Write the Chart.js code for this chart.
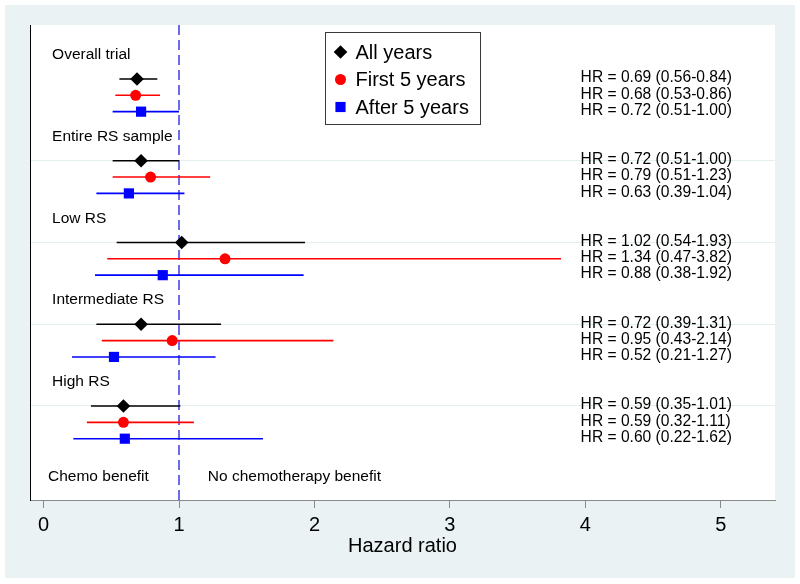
<!DOCTYPE html>
<html><head><meta charset="utf-8">
<script src="https://cdn.jsdelivr.net/npm/chart.js@4"></script>
<style>html,body{margin:0;padding:0;background:#fff;}#wrap{width:800px;height:584px;}</style>
</head><body><div id="wrap"><canvas id="c" width="800" height="584"></canvas></div>
<script>
// ---- data ----
const groups = ['Overall trial', 'Entire RS sample', 'Low RS', 'Intermediate RS', 'High RS'];
const seriesNames = ['All years', 'First 5 years', 'After 5 years'];
const allHR   = [0.69, 0.72, 1.02, 0.72, 0.59];
const allLo   = [0.56, 0.51, 0.54, 0.39, 0.35];
const allHi   = [0.84, 1.00, 1.93, 1.31, 1.01];
const firstHR = [0.68, 0.79, 1.34, 0.95, 0.59];
const firstLo = [0.53, 0.51, 0.47, 0.43, 0.32];
const firstHi = [0.86, 1.23, 3.82, 2.14, 1.11];
const afterHR = [0.72, 0.63, 0.88, 0.52, 0.60];
const afterLo = [0.51, 0.39, 0.38, 0.21, 0.22];
const afterHi = [1.00, 1.04, 1.92, 1.27, 1.62];
const xTicks = [0, 1, 2, 3, 4, 5];
const refValue = 1;
const xTitle = 'Hazard ratio';
const benefitLabels = ['Chemo benefit', 'No chemotherapy benefit'];

// ---- styling ----
const FONT = '"Liberation Sans", Arial, sans-serif';
const series = [
  {name: seriesNames[0], hr: allHR,   lo: allLo,   hi: allHi,   color: '#000000', style: 'rectRot', radius: 6.8},
  {name: seriesNames[1], hr: firstHR, lo: firstLo, hi: firstHi, color: '#ff0000', style: 'circle',  radius: 5.5},
  {name: seriesNames[2], hr: afterHR, lo: afterLo, hi: afterHi, color: '#0000ff', style: 'rect',    radius: 7.2}
];
const GROUP_STEP = 5;
function rowOf(g, s) { return g * GROUP_STEP + 1 + s; }

const datasets = series.map((s, si) => ({
  label: s.name,
  data: s.hr.map((v, g) => ({x: v, y: rowOf(g, si)})),
  pointStyle: s.style,
  pointRadius: s.radius,
  pointHoverRadius: s.radius,
  pointBackgroundColor: s.color,
  pointBorderColor: s.color,
  pointBorderWidth: 0,
  showLine: false
}));

const forestPlugin = {
  id: 'forest',
  beforeDraw(chart) {
    const ctx = chart.ctx, a = chart.chartArea;
    ctx.save();
    ctx.fillStyle = '#ffffff';
    ctx.fillRect(0, 0, chart.width, chart.height);
    ctx.fillStyle = '#eaf2f3';
    ctx.fillRect(5, 5, chart.width - 10, chart.height - 11);
    ctx.fillStyle = '#ffffff';
    ctx.fillRect(a.left, a.top, a.right - a.left, a.bottom - a.top);
    ctx.restore();
  },
  beforeDatasetsDraw(chart) {
    const ctx = chart.ctx, xs = chart.scales.x, ys = chart.scales.y, a = chart.chartArea;
    ctx.save();
    // reference line
    const xr = xs.getPixelForValue(refValue);
    ctx.strokeStyle = '#6b6bec';
    ctx.lineWidth = 2;
    ctx.setLineDash([10, 5]);
    ctx.beginPath();
    ctx.moveTo(xr, a.top);
    ctx.lineTo(xr, a.bottom);
    ctx.stroke();
    ctx.setLineDash([]);
    // confidence intervals
    ctx.lineWidth = 1.6;
    series.forEach((s, si) => {
      ctx.strokeStyle = s.color;
      s.lo.forEach((lo, g) => {
        const y = ys.getPixelForValue(rowOf(g, si));
        ctx.beginPath();
        ctx.moveTo(xs.getPixelForValue(lo), y);
        ctx.lineTo(xs.getPixelForValue(s.hi[g]), y);
        ctx.stroke();
      });
    });
    ctx.restore();
  },
  afterDatasetsDraw(chart) {
    const ctx = chart.ctx, xs = chart.scales.x, ys = chart.scales.y;
    ctx.save();
    ctx.fillStyle = '#000';
    ctx.textBaseline = 'middle';
    ctx.textAlign = 'left';
    ctx.font = '15.5px ' + FONT;
    groups.forEach((name, g) => {
      ctx.fillText(name, xs.getPixelForValue(0.063), ys.getPixelForValue(rowOf(g, 0) - 1.47));
    });
    ctx.font = '15.6px ' + FONT;
    series.forEach((s, si) => {
      s.hr.forEach((v, g) => {
        const t = 'HR = ' + v.toFixed(2) + ' (' + s.lo[g].toFixed(2) + '-' + s.hi[g].toFixed(2) + ')';
        ctx.fillText(t, xs.getPixelForValue(3.965), ys.getPixelForValue(rowOf(g, si)) - 1);
      });
    });
    ctx.font = '15.5px ' + FONT;
    const yb = ys.getPixelForValue(25.35);
    ctx.fillText(benefitLabels[0], xs.getPixelForValue(0.033), yb);
    ctx.fillText(benefitLabels[1], xs.getPixelForValue(1.213), yb);

    // legend box
    const L = {x: 325.5, y: 32.5, w: 155, h: 92};
    ctx.fillStyle = '#ffffff';
    ctx.fillRect(L.x, L.y, L.w, L.h);
    ctx.strokeStyle = '#3a3a3a';
    ctx.lineWidth = 1;
    ctx.strokeRect(L.x, L.y, L.w, L.h);
    ctx.font = '20px ' + FONT;
    series.forEach((s, si) => {
      const y = L.y + 19.5 + si * 27.5;
      ctx.fillStyle = s.color;
      Chart.helpers.drawPoint(ctx, {pointStyle: s.style, radius: s.radius, rotation: 0, borderWidth: 0}, L.x + 15, y);
      ctx.fillStyle = '#000';
      ctx.fillText(s.name, L.x + 30, y + 1);
    });
    ctx.restore();
  }
};

new Chart(document.getElementById('c'), {
  type: 'scatter',
  data: {datasets},
  plugins: [forestPlugin],
  options: {
    responsive: false,
    animation: false,
    events: [],
    layout: {padding: {left: 30, right: 25, top: 25, bottom: 0}},
    plugins: {legend: {display: false}, tooltip: {enabled: false}},
    scales: {
      x: {
        type: 'linear', min: -0.1, max: 5.4,
        afterBuildTicks(s) { s.ticks = xTicks.map(v => ({value: v})); },
        afterFit(s) { s.height = 84; },
        ticks: {color: '#000', font: {size: 20, family: FONT}, padding: 5, maxRotation: 0, autoSkip: false},
        grid: {drawOnChartArea: false, drawTicks: true, tickLength: 8, color: '#8a8a8a', lineWidth: 1},
        border: {color: '#8a8a8a', width: 1},
        title: {display: true, text: xTitle, color: '#000', font: {size: 20, family: FONT}, padding: {top: 0, bottom: 26}}
      },
      y: {
        type: 'linear', min: -2.3, max: 26.75, reverse: true, position: 'left',
        afterBuildTicks(s) { s.ticks = groups.slice(1).map((_, i) => ({value: rowOf(i + 1, 0)})); },
        afterFit(s) { s.width = 0; },
        ticks: {display: false},
        grid: {color: '#e3eef0', drawTicks: false, lineWidth: 1},
        border: {display: true, color: '#000', width: 1}
      }
    }
  }
});
</script></body></html>
